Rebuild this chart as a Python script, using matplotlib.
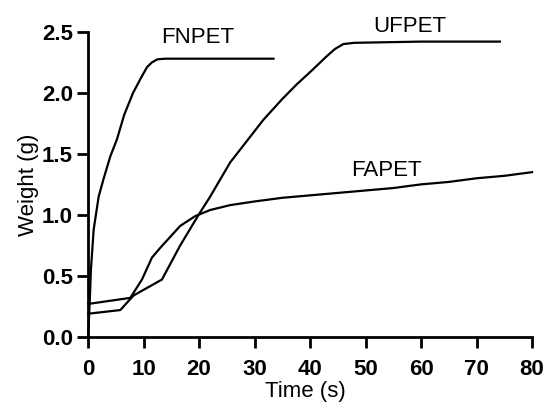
import matplotlib.pyplot as plt

# =========================================================
# data
# =========================================================
fnpet_t = [0, 0.3, 0.5, 1.0, 1.9, 2.75, 4.0, 5.2, 6.5, 8.1, 9.5, 10.6, 11.5, 12.5, 14.0, 33.4]
fnpet_w = [0.0, 0.3, 0.55, 0.88, 1.15, 1.29, 1.48, 1.62, 1.82, 2.0, 2.12, 2.21, 2.25, 2.275, 2.28, 2.28]

ufpet_t = [0, 5.8, 8.2, 13.3, 16.6, 19.9, 22, 25.6, 28, 31.6, 35, 37.6, 40, 43, 44.5, 46, 48, 60, 74.2]
ufpet_w = [0.19, 0.22, 0.34, 0.47, 0.75, 1.0, 1.15, 1.43, 1.57, 1.78, 1.95, 2.07, 2.17, 2.30, 2.36, 2.40, 2.41, 2.42, 2.42]

fapet_t = [0, 7.6, 9.7, 11.5, 13, 16.6, 19.3, 22, 25.6, 30, 35, 40, 45, 50, 55, 60, 65, 70, 75, 80]
fapet_w = [0.27, 0.32, 0.47, 0.65, 0.73, 0.91, 0.99, 1.04, 1.08, 1.11, 1.14, 1.16, 1.18, 1.20, 1.22, 1.25, 1.27, 1.30, 1.32, 1.35]

labels = ["FNPET", "UFPET", "FAPET"]
label_pos = [(19.8, 2.45), (58, 2.54), (53.8, 1.36)]

x_ticks = [0, 10, 20, 30, 40, 50, 60, 70, 80]
y_ticks = [0.0, 0.5, 1.0, 1.5, 2.0, 2.5]

plt.rcParams["font.family"] = ["Liberation Sans", "DejaVu Sans"]

fig = plt.figure(figsize=(5.44, 4.03), dpi=100)
ax = fig.add_axes([0.162, 0.164, 0.816, 0.757])

for t, w in [(fnpet_t, fnpet_w), (ufpet_t, ufpet_w), (fapet_t, fapet_w)]:
    ax.plot(t, w, color="black", linewidth=1.6, clip_on=False,
            solid_joinstyle="round")

for name, (x, y) in zip(labels, label_pos):
    ax.text(x, y, name, ha="center", va="center", fontsize=16)

ax.set_xlim(0, 80)
ax.set_ylim(0, 2.5)
ax.set_xticks(x_ticks)
ax.set_yticks(y_ticks)
ax.set_yticklabels([f"{v:.1f}" for v in y_ticks])

for side in ["top", "right"]:
    ax.spines[side].set_visible(False)
for side in ["left", "bottom"]:
    ax.spines[side].set_linewidth(2)

ax.tick_params(width=2, length=8, labelsize=16)
ax.tick_params(axis="y", pad=3)
ax.tick_params(axis="x", pad=8)
for lbl in ax.get_xticklabels() + ax.get_yticklabels():
    lbl.set_fontweight("bold")

ax.set_xlabel("Time (s)", fontsize=16, va="center")
ax.xaxis.set_label_coords(0.489, -0.18)
ax.set_ylabel("Weight (g)", fontsize=16, labelpad=2)

fig.savefig("out.png", dpi=100)
